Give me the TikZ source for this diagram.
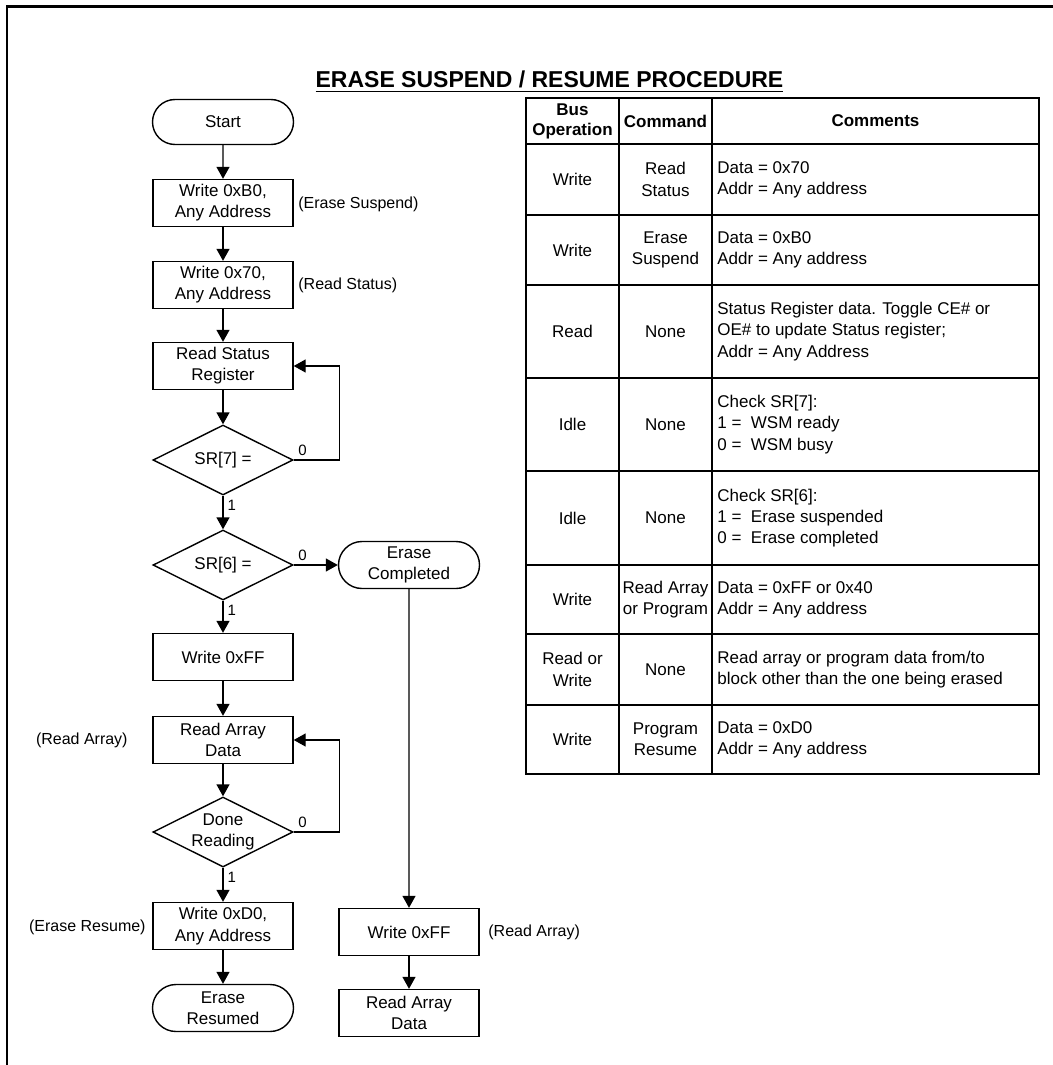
\documentclass[tikz,border=0pt]{standalone}
\usepackage{fontspec}
\setmainfont{Liberation Sans}
\usetikzlibrary{arrows.meta, shapes.geometric, shapes.misc}

\begin{document}
\begin{tikzpicture}[x=0.5pt, y=-0.5pt,
    every node/.style={font=\fontsize{8.5}{10.6}\selectfont},
    procbox/.style={draw, line width=0.7pt, minimum width=70pt, minimum height=23.5pt, inner sep=0pt, align=center},
    pill/.style={draw, line width=0.7pt, rounded rectangle, minimum width=70.5pt, minimum height=23.5pt, inner sep=0pt, align=center},
    decision/.style={draw, line width=0.7pt, diamond, aspect=2, minimum width=70pt, minimum height=35pt, inner sep=0pt, align=center},
    flow/.style={line width=0.7pt, -{Triangle[length=6pt, width=6.5pt]}},
    note/.style={inner sep=0pt, font=\fontsize{8}{10}\selectfont},
    bitlbl/.style={font=\fontsize{7.5}{9}\selectfont, inner sep=2pt},
    grid/.style={line width=1pt},
    hdr/.style={font=\bfseries\fontsize{8.5}{10}\selectfont, align=center},
    cell/.style={align=center},
    cmt/.style={align=left, anchor=west, inner sep=0pt}]

    \useasboundingbox (0,0) rectangle (1053,1065);

    % Frame and title
    \draw[line width=1.3pt] (1053,6.5) -- (7,6.5) -- (7,1065);
    \node[anchor=base, font=\bfseries\fontsize{11.5}{13}\selectfont] (title) at (549.5,88) {\underline{ERASE SUSPEND / RESUME PROCEDURE}};

    % First, locate each step of the flow and name it
    \node[pill, minimum height=22.5pt] (start) at (223,122) {Start};
    \node[procbox] (wrSusp) at (223,203) {Write 0xB0,\\Any Address};
    \node[note, anchor=west] (sSusp) at (298,204) {(Erase Suspend)};
    \node[procbox] (wrStat) at (223,285) {Write 0x70,\\Any Address};
    \node[note, anchor=west] (sStat) at (298,285) {(Read Status)};
    \node[procbox] (rdStat) at (223,366) {Read Status\\Register};
    \node[decision] (chkSR7) at (223,460) {SR[7] =};
    \node[decision] (chkSR6) at (223,565) {SR[6] =};
    \node[pill] (eraseDone) at (409,565) {Erase\\Completed};
    \node[procbox] (wrFF) at (223,657) {Write 0xFF};
    \node[procbox] (rdArr) at (223,740) {Read Array\\Data};
    \node[note, anchor=east] (sArr) at (128,740) {(Read Array)};
    \node[decision] (doneRd) at (223,832) {Done\\Reading};
    \node[procbox] (wrResume) at (223,926) {Write 0xD0,\\Any Address};
    \node[note, anchor=east] (sResume) at (146,927) {(Erase Resume)};
    \node[pill] (eraseResumed) at (223,1008) {Erase\\Resumed};

    \node[procbox] (wrFF2) at (409,932) {Write 0xFF};
    \node[note, anchor=west] (sArr2) at (488,932) {(Read Array)};
    \node[procbox] (rdArr2) at (409,1013) {Read Array\\Data};

    % Now draw the arrows
    \draw[flow] (start) -- (wrSusp);
    \draw[flow] (wrSusp) -- (wrStat);
    \draw[flow] (wrStat) -- (rdStat);
    \draw[flow] (rdStat) -- (chkSR7);
    % Busy: poll again
    \draw[flow] (chkSR7.east) -- node[bitlbl, pos=0, anchor=south west] (z7) {0} ++(46,0) |- (rdStat.east);
    \draw[flow] (chkSR7.south) -- node[bitlbl, pos=0, anchor=north west] (o7) {1} (chkSR6.north);
    \draw[flow] (chkSR6.east) -- node[bitlbl, pos=0, anchor=south west] (z6) {0} (eraseDone.west);
    \draw[flow] (chkSR6.south) -- node[bitlbl, pos=0, anchor=north west] (o6) {1} (wrFF.north);
    \draw[flow] (wrFF) -- (rdArr);
    \draw[flow] (rdArr) -- (doneRd);
    % Not done: keep reading
    \draw[flow] (doneRd.east) -- node[bitlbl, pos=0, anchor=south west] (zd) {0} ++(46,0) |- (rdArr.east);
    \draw[flow] (doneRd.south) -- node[bitlbl, pos=0, anchor=north west] (od) {1} (wrResume.north);
    \draw[flow] (wrResume) -- (eraseResumed);
    % Erase already completed
    \draw[flow] (eraseDone) -- (wrFF2);
    \draw[flow] (wrFF2) -- (rdArr2);

    % Table of bus operations
    \draw[grid] (526,98) rectangle (1039,774);
    \foreach \y in {144,215,285,378,471,565,634,705}
        \draw[grid] (526,\y) -- (1039,\y);
    \foreach \x in {619,712}
        \draw[grid] (\x,98) -- (\x,774);

    \node[hdr] (hOp) at (572.5,121) {Bus\\Operation};
    \node[hdr] (hCmd) at (665.5,121) {Command};
    \node[hdr] (hCmt) at (875.5,121) {Comments};

    \node[cell] (op1) at (572.5,179.5) {Write};
    \node[cell] (cmd1) at (665.5,179.5) {Read\\Status};
    \node[cmt] (cmt1) at (717,179.5) {Data = 0x70\\Addr = Any address};

    \node[cell] (op2) at (572.5,250) {Write};
    \node[cell] (cmd2) at (665.5,250) {Erase\\Suspend};
    \node[cmt] (cmt2) at (717,250) {Data = 0xB0\\Addr = Any address};

    \node[cell] (op3) at (572.5,331.5) {Read};
    \node[cell] (cmd3) at (665.5,331.5) {None};
    \node[cmt] (cmt3) at (717,331.5) {Status Register data. Toggle CE\# or\\OE\# to update Status register;\\Addr = Any Address};

    \node[cell] (op4) at (572.5,424.5) {Idle};
    \node[cell] (cmd4) at (665.5,424.5) {None};
    \node[cmt] (cmt4) at (717,424.5) {Check SR[7]:\\1 =\ \ WSM ready\\0 =\ \ WSM busy};

    \node[cell] (op5) at (572.5,518) {Idle};
    \node[cell] (cmd5) at (665.5,518) {None};
    \node[cmt] (cmt5) at (717,518) {Check SR[6]:\\1 =\ \ Erase suspended\\0 =\ \ Erase completed};

    \node[cell] (op6) at (572.5,599.5) {Write};
    \node[cell] (cmd6) at (665.5,599.5) {Read Array\\or Program};
    \node[cmt] (cmt6) at (717,599.5) {Data = 0xFF or 0x40\\Addr = Any address};

    \node[cell] (op7) at (572.5,669.5) {Read or\\Write};
    \node[cell] (cmd7) at (665.5,669.5) {None};
    \node[cmt] (cmt7) at (717,669.5) {Read array or program data from/to\\block other than the one being erased};

    \node[cell] (op8) at (572.5,739.5) {Write};
    \node[cell] (cmd8) at (665.5,739.5) {Program\\Resume};
    \node[cmt] (cmt8) at (717,739.5) {Data = 0xD0\\Addr = Any address};
\end{tikzpicture}
\end{document}
